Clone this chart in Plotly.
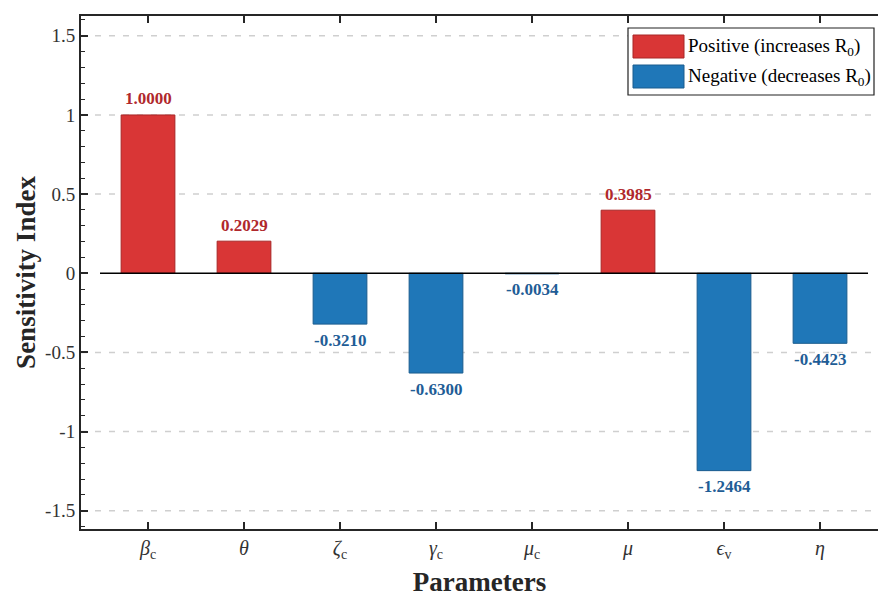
import plotly.graph_objects as go

params = ["<i>β</i><sub>c</sub>", "<i>θ</i>", "<i>ζ</i><sub>c</sub>", "<i>γ</i><sub>c</sub>",
          "<i>μ</i><sub>c</sub>", "<i>μ</i>", "<i>ϵ</i><sub>v</sub>", "<i>η</i>"]
sens = [1.0000, 0.2029, -0.3210, -0.6300, -0.0034, 0.3985, -1.2464, -0.4423]
ytickvals = [-1.5, -1, -0.5, 0, 0.5, 1, 1.5]
yticktext = ["-1.5", "-1", "-0.5", "0", "0.5", "1", "1.5"]
legend_labels = ["Positive (increases R<sub>0</sub>)", "Negative (decreases R<sub>0</sub>)"]

POS_FILL, POS_EDGE, POS_TXT = "#d93636", "#a82626", "#b0282c"
NEG_FILL, NEG_EDGE, NEG_TXT = "#1f77b8", "#1a5c8e", "#1f5d96"
FONT = "Liberation Serif"
AX = "#262626"

W, H = 878, 597
L, R, T, B = 81, 0, 16, 68
pw, ph = W - L - R, H - T - B

def px(x):
    return (x - L) / pw

def py(y):
    return (H - B - y) / ph

xi = list(range(len(params)))
fills = [POS_FILL if v >= 0 else NEG_FILL for v in sens]
edges = [POS_EDGE if v >= 0 else NEG_EDGE for v in sens]

fig = go.Figure()
fig.add_trace(go.Bar(x=xi, y=sens, width=0.56,
                     marker=dict(color=fills, line=dict(color=edges, width=1)),
                     showlegend=False, hoverinfo="skip"))

annotations = []
for i, v in zip(xi, sens):
    annotations.append(dict(x=i, y=v, xref="x", yref="y", text=f"<b>{v:.4f}</b>",
                            showarrow=False, yshift=16 if v >= 0 else -16,
                            font=dict(family=FONT, size=17,
                                      color=POS_TXT if v >= 0 else NEG_TXT)))

shapes = []
for v in ytickvals:
    if v == 0:
        continue
    shapes.append(dict(type="line", xref="paper", yref="y", x0=0, x1=1, y0=v, y1=v,
                       line=dict(color="#cfcfcf", width=1.5, dash="6px,8px"), layer="below"))
shapes.append(dict(type="line", xref="x", yref="y", x0=-0.5, x1=len(params) - 0.5,
                   y0=0, y1=0, line=dict(color="black", width=1.5), layer="above"))

# manual legend
lx0, ly0, lx1, ly1 = 628, 28, 874, 95
shapes.append(dict(type="rect", xref="paper", yref="paper", x0=px(lx0), x1=px(lx1),
                   y0=py(ly1), y1=py(ly0), line=dict(color="#222222", width=1.2),
                   fillcolor="white", layer="above"))
for k, (fc, ec, lab) in enumerate([(POS_FILL, POS_EDGE, legend_labels[0]),
                                   (NEG_FILL, NEG_EDGE, legend_labels[1])]):
    sy0 = 35 + k * 30
    sy1 = sy0 + 23
    shapes.append(dict(type="rect", xref="paper", yref="paper", x0=px(633), x1=px(684),
                       y0=py(sy1), y1=py(sy0), line=dict(color=ec, width=1),
                       fillcolor=fc, layer="above"))
    annotations.append(dict(x=px(686), y=py((sy0 + sy1) / 2 + 1), xref="paper", yref="paper",
                            text=lab, showarrow=False, xanchor="left", yanchor="middle",
                            font=dict(family=FONT, size=19, color="black")))

fig.update_layout(
    width=W, height=H,
    margin=dict(l=L, r=R, t=T, b=B),
    paper_bgcolor="white", plot_bgcolor="white",
    font=dict(family=FONT, color="#262626"),
    shapes=shapes, annotations=annotations,
)
fig.update_xaxes(
    range=[-0.698, 7.604], tickmode="array", tickvals=xi, ticktext=params,
    tickfont=dict(family=FONT, size=20, color="#333333"),
    ticks="inside", ticklen=7, tickwidth=1.5, tickcolor=AX,
    showline=True, linecolor=AX, linewidth=2, mirror="ticks",
    showgrid=False, zeroline=False,
    title=dict(text="<b>Parameters</b>", font=dict(family=FONT, size=27, color="#262626"),
               standoff=15),
)
fig.update_yaxes(
    range=[-1.615, 1.625], tickmode="array", tickvals=ytickvals, ticktext=yticktext,
    tickfont=dict(family=FONT, size=19, color="#333333"),
    ticks="inside", ticklen=7, tickwidth=1.5, tickcolor=AX,
    minor=dict(ticks="inside", dtick=0.1, ticklen=4, tickwidth=1.2, tickcolor=AX, showgrid=False),
    showline=True, linecolor=AX, linewidth=2, mirror=False,
    showgrid=False, zeroline=False,
    title=dict(text="<b>Sensitivity Index</b>", font=dict(family=FONT, size=27, color="#262626"),
               standoff=2),
)

fig.write_html("out.html")
